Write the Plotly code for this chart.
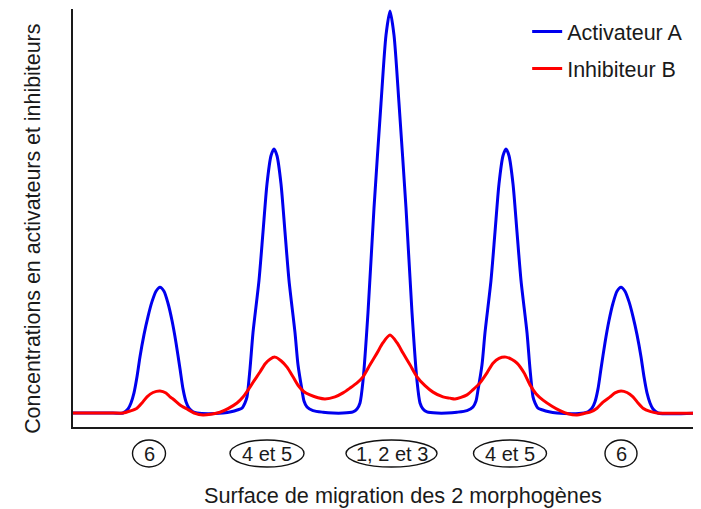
import plotly.graph_objects as go

# --- DATA ---
# position along the migration surface (arbitrary units) and concentrations (a.u.)
activ_x = [0, 40, 50, 55, 58, 61, 64, 67, 71, 75, 79, 83, 87, 91, 95, 99, 103, 107, 110,
           113, 116, 120, 124, 135, 150, 158, 165, 169, 172, 174, 177, 180, 186, 190, 194, 198, 201,
           204, 208, 212, 216, 222, 225, 229, 231, 234, 240, 250, 260, 270, 280, 284, 287, 290,
           295, 301, 308, 313, 317, 321, 326, 333, 339, 344, 347, 350, 354, 364, 374, 384, 394,
           400, 403, 405, 409, 412, 418, 422, 426, 430, 433, 436, 440, 444, 448, 454, 457, 460,
           462, 465, 469, 476, 484, 499, 511, 515, 519, 522, 525, 528, 532, 536, 540, 544, 548,
           552, 556, 560, 564, 568, 571, 574, 577, 580, 585, 628]
activ_y = [0, 0, 0, 1, 2.5, 5, 9, 14, 19.5, 24, 27.7, 30.3, 31.3, 30.3, 27.3, 23, 17.5, 11, 6,
           2.8, 1.2, 0.3, 0, -0.2, 0, 0.3, 0.8, 1.2, 2.5, 4, 11, 20, 33, 45, 57, 64, 65.7,
           64, 57, 45, 33, 20, 12, 5.7, 3, 1.5, 0.6, 0.2, 0, 0, 0.3, 1, 2.5, 8,
           25, 51, 77, 94, 100, 94, 77, 51, 25, 8, 2.5, 1, 0.3, 0, 0, 0.2, 0.6,
           1.5, 3, 5.7, 12, 20, 33, 45, 57, 64, 65.7, 64, 57, 45, 33, 20, 11, 4,
           2.5, 1.2, 0.8, 0.3, 0, -0.2, 0, 0.3, 1.2, 2.8, 6, 11, 17.5, 23, 27.3, 30.3, 31.3,
           30.3, 27.7, 24, 19.5, 14, 9, 5, 2.5, 1, 0, 0]

inhib_x = [0, 40, 50, 57, 64, 69, 74, 80, 87, 93, 97, 100, 107, 114, 122, 130, 138, 147, 155,
           164, 170, 175, 181, 187, 192, 197, 202, 208, 214, 220, 225, 231, 237, 245, 252, 262,
           270, 277, 284, 290, 297, 304, 310, 317, 324, 330, 337, 344, 352, 360, 370, 377, 382,
           394, 400, 407, 414, 420, 426, 433, 439, 444, 451, 457, 463, 470, 479, 487, 495, 504,
           511, 517, 524, 530, 537, 542, 548, 554, 560, 565, 570, 577, 584, 628]
inhib_y = [0, 0, 0, 0.5, 1.2, 2.5, 4, 5.1, 5.5, 5, 4, 3.5, 2, 1, -0.1, -0.5, -0.3, 0.2, 1.1,
           2.5, 4, 5.7, 8, 10.2, 12.2, 13.4, 13.9, 13, 11.4, 9, 6.9, 5.3, 4.5, 3.8, 3.5, 4,
           5, 6.2, 7.5, 9, 12, 14.9, 17.5, 19.4, 17.5, 14.9, 12, 9, 6.8, 5.2, 4, 3.7, 3.5,
           4.5, 5.8, 7.5, 10, 12.4, 13.6, 13.9, 13.3, 12.4, 10, 7, 4.8, 3.2, 1.7, 0.6, -0.2, -0.5,
           -0.1, 0.2, 1.2, 2.7, 4, 5, 5.5, 5.1, 4, 2.5, 1.2, 0.4, 0, 0]

zone_labels = ["6", "4 et 5", "1, 2 et 3", "4 et 5", "6"]
zone_pos = [76, 194, 318.5, 437, 548]

FONT = "Liberation Sans, Arial, sans-serif"
INK = "#1a1a1a"

fig = go.Figure()

fig.add_trace(go.Scatter(
    x=activ_x, y=activ_y, mode="lines", name="Activateur A", legendgroup="a",
    line=dict(color="#0000ee", width=3, shape="spline", smoothing=0.7),
))
fig.add_trace(go.Scatter(
    x=inhib_x, y=inhib_y, mode="lines", name="Inhibiteur B", legendgroup="b",
    line=dict(color="#ff0000", width=3, shape="spline", smoothing=0.7),
))

# --- circled zone labels under the axis ---
ell_w = [33, 74, 91, 73, 32]
for lab, xp, w in zip(zone_labels, zone_pos, ell_w):
    fig.add_shape(
        type="circle", xref="x", yref="paper",
        xsizemode="pixel", ysizemode="pixel",
        xanchor=xp, yanchor=-0.0634,
        x0=-w / 2, x1=w / 2, y0=-13.5, y1=13.5,
        line=dict(color="#111111", width=1.4),
    )
    fig.add_annotation(
        x=xp, y=-0.0634, xref="x", yref="paper", text=lab, showarrow=False,
        xanchor="center", yanchor="middle",
        font=dict(family=FONT, size=20, color=INK),
    )

# axis titles as free text
fig.add_annotation(
    x=0.5255, y=-0.165, xref="paper", yref="paper", showarrow=False,
    xanchor="center", yanchor="middle",
    text="Surface de migration des 2 morphogènes",
    font=dict(family=FONT, size=21.7, color=INK),
)
fig.add_annotation(
    x=-0.0637, y=0.474, xref="paper", yref="paper", showarrow=False, textangle=-90,
    xanchor="center", yanchor="middle",
    text="Concentrations en activateurs et inhibiteurs",
    font=dict(family=FONT, size=21.4, color=INK),
)

# --- LAYOUT ---
# page body has an 8px margin, so the figure is 8px smaller and margins shifted
axis_style = dict(showline=True, linecolor=INK, linewidth=2, showgrid=False,
                  zeroline=False, showticklabels=False, ticks="")
fig.update_layout(
    width=693, height=501,
    margin=dict(l=65, r=0, t=1, b=82),
    paper_bgcolor="white", plot_bgcolor="white",
    xaxis=dict(range=[0, 628], **axis_style),
    yaxis=dict(range=[-3.48, 100.5], **axis_style),
    legend=dict(x=0.7232, y=0.995, xanchor="left", yanchor="top",
                font=dict(family=FONT, size=21.5, color=INK),
                tracegroupgap=6, bgcolor="rgba(0,0,0,0)"),
    showlegend=True,
)

fig.write_html("out.html")
